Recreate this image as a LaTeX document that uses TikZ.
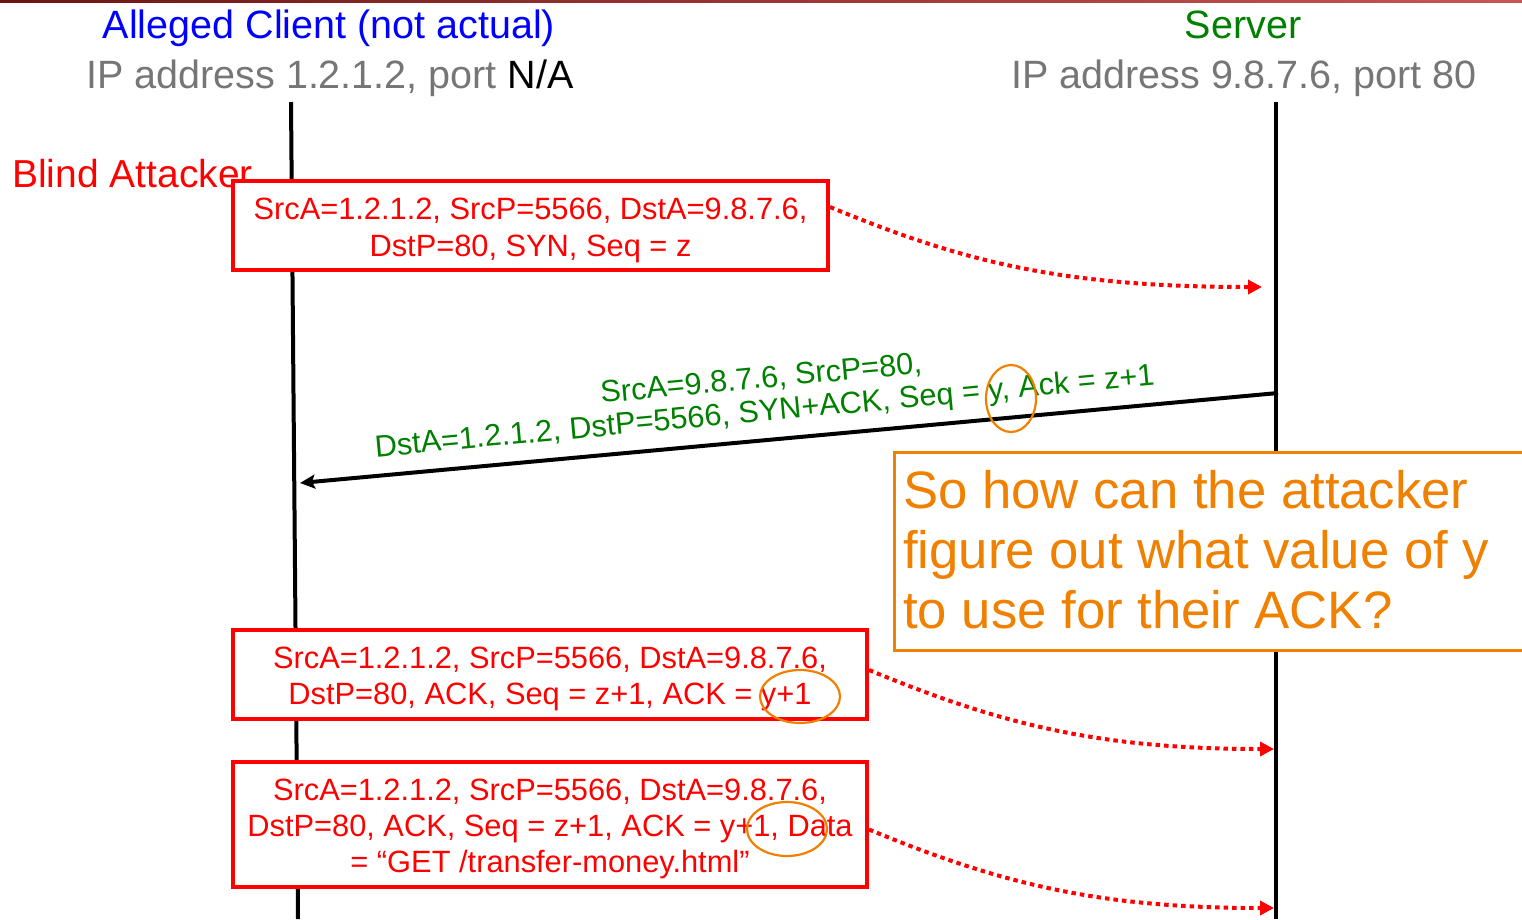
\documentclass[tikz,border=0pt]{standalone}
\usepackage{fontspec}
\setmainfont{Liberation Sans}
\usetikzlibrary{arrows.meta,shapes.geometric}
\definecolor{ored}{RGB}{255,0,0}
\definecolor{ogreen}{RGB}{0,128,0}
\definecolor{oblue}{RGB}{0,0,255}
\definecolor{ogray}{RGB}{118,118,118}
\definecolor{oorange}{RGB}{240,128,0}
\definecolor{barL}{RGB}{110,20,20}
\definecolor{barR}{RGB}{200,85,85}
\newcommand{\toppad}{\rule{0pt}{31pt}}
\begin{document}
\begin{tikzpicture}[x=1pt,y=-1pt,
  lifeline/.style={line width=4pt, black},
  pkt/.style={draw=ored, line width=4pt, fill=white, text=ored, align=center,
    font=\fontsize{30.8}{36}\selectfont, inner sep=0pt},
  hdr/.style={anchor=base, font=\fontsize{39.5}{46}\selectfont, inner sep=0pt},
  spoof/.style={ored, line width=4pt, dash pattern=on 4.5pt off 4pt,
    -{Triangle[length=14pt,width=14pt]}},
  reply/.style={black, line width=4pt, -{Stealth[length=15pt,width=14pt,inset=3pt]}},
  greenlbl/.style={anchor=base, text=ogreen, font=\fontsize{30.7}{36}\selectfont, inner sep=0pt, rotate=5.3},
  ring/.style={draw=oorange, line width=2.2pt, ellipse, inner sep=0pt},
  qline/.style={anchor=base west, text=oorange, font=\fontsize{52.7}{60}\selectfont, inner sep=0pt}
]
\useasboundingbox (0,0) rectangle (1522,919);
\shade[left color=barL, right color=barR] (0,0) rectangle (1522,2.5);

% lifelines
\coordinate (cTop) at (291,102);
\coordinate (cBot) at (298,919);
\coordinate (sTop) at (1276,102);
\coordinate (sBot) at (1276,919);
\draw[lifeline] (cTop) -- (cBot);
\draw[lifeline] (sTop) -- (sBot);

% headers
\node[hdr, text=oblue] (h1) at (329,38) {Alleged Client (not actual)};
\node[hdr, text=ogray] (h2) at (330,88) {IP address 1.2.1.2, port \textcolor{black}{N/A}};
\node[hdr, text=ogreen] (h3) at (1243,38) {Server};
\node[hdr, text=ogray] (h4) at (1244,88) {IP address 9.8.7.6, port 80};

\node[anchor=base west, text=ored, font=\fontsize{39}{46}\selectfont, inner sep=0pt] (att) at (12,187) {Blind Attacker};

% packets
\node[pkt, minimum width=595pt, minimum height=89pt, font=\fontsize{30.8}{37}\selectfont] (b1) at (530.5,225.5)
  {\toppad SrcA=1.2.1.2, SrcP=5566, DstA=9.8.7.6,\\DstP=80, SYN, Seq = z};
\node[pkt, minimum width=634pt, minimum height=89pt] (b3) at (550,674.5)
  {\toppad SrcA=1.2.1.2, SrcP=5566, DstA=9.8.7.6,\\DstP=80, ACK, Seq = z+1, ACK = y+1};
\node[pkt, minimum width=634pt, minimum height=125pt] (b4) at (550,824.5)
  {\toppad SrcA=1.2.1.2, SrcP=5566, DstA=9.8.7.6,\\DstP=80, ACK, Seq = z+1, ACK = y+1, Data\\= “GET /transfer-money.html”};

% message endpoints
\coordinate (m1e) at (1262,287);
\coordinate (m2s) at (1278,393);
\coordinate (m2e) at (300,483);
\coordinate (m3e) at (1274,749);
\coordinate (m4e) at (1274,908);

\draw[spoof] ([yshift=18.5pt]b1.east) .. controls +(133,55) and +(-200,0) .. (m1e);
\draw[spoof] ([yshift=4.5pt]b3.east) .. controls +(133,55) and +(-174,0) .. (m3e);
\draw[spoof] ([yshift=-5pt]b4.east) .. controls +(133,55) and +(-174,0) .. (m4e);

\draw[reply] (m2s) -- (m2e);
\node[greenlbl] (l2a) at (762,388) {SrcA=9.8.7.6, SrcP=80,};
\node[greenlbl] (l2b) at (765.5,421) {DstA=1.2.1.2, DstP=5566, SYN+ACK, Seq = y, Ack = z+1};

% circles
\node[ring, minimum width=50pt, minimum height=67pt] (e1) at (1011,398.5) {};
\node[ring, minimum width=80pt, minimum height=53pt] (e2) at (800,696.5) {};
\node[ring, minimum width=80pt, minimum height=54pt] (e3) at (787,829) {};

% question box
\node[draw=oorange, line width=3pt, fill=white, anchor=north west, inner sep=0pt,
  minimum width=645pt, minimum height=198pt] (qbox) at (893,451) {};
\node[qline] (q1) at (903,508) {So how can the attacker};
\node[qline] (q2) at (903,568) {figure out what value of y};
\node[qline] (q3) at (903,628) {to use for their ACK?};
\end{tikzpicture}
\end{document}
